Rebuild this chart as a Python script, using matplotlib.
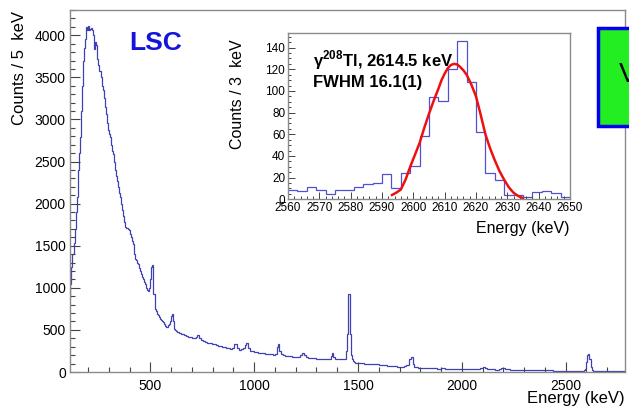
import matplotlib
matplotlib.use('Agg')
import numpy as np
import matplotlib.pyplot as plt
from matplotlib.patches import Rectangle
from matplotlib.ticker import MultipleLocator

# main spectrum, counts / 5 keV (low bin edges in keV)
energy = [
    110, 115, 120, 125, 130, 135, 140, 145, 150, 155, 160, 165, 170, 175, 180, 185,
    190, 195, 200, 205, 210, 215, 220, 225, 230, 235, 240, 245, 250, 255, 260, 265,
    270, 275, 280, 285, 290, 295, 300, 305, 310, 315, 320, 325, 330, 335, 340, 345,
    350, 355, 360, 365, 370, 375, 380, 385, 390, 395, 400, 405, 410, 415, 420, 425,
    430, 435, 440, 445, 450, 455, 460, 465, 470, 475, 480, 485, 490, 495, 500, 505,
    510, 515, 520, 525, 530, 535, 540, 545, 550, 555, 560, 565, 570, 575, 580, 585,
    590, 595, 600, 605, 610, 615, 620, 625, 630, 635, 640, 645, 650, 660, 670, 680,
    690, 700, 710, 720, 725, 735, 745, 755, 765, 775, 785, 795, 805, 815, 825, 835,
    845, 855, 865, 875, 885, 895, 905, 915, 925, 935, 945, 955, 960, 970, 980, 990,
    1000, 1010, 1020, 1030, 1040, 1050, 1060, 1070, 1080, 1090, 1100, 1110, 1115, 1120, 1130, 1140,
    1150, 1160, 1170, 1180, 1190, 1200, 1210, 1220, 1230, 1240, 1250, 1260, 1270, 1280, 1290, 1300,
    1310, 1320, 1330, 1340, 1350, 1360, 1370, 1375, 1380, 1390, 1400, 1410, 1420, 1430, 1440, 1445,
    1450, 1455, 1460, 1465, 1470, 1475, 1480, 1485, 1490, 1500, 1510, 1520, 1530, 1540, 1550, 1560,
    1570, 1580, 1590, 1600, 1610, 1620, 1630, 1640, 1650, 1660, 1670, 1680, 1690, 1700, 1710, 1720,
    1730, 1740, 1745, 1755, 1765, 1770, 1780, 1790, 1800, 1820, 1840, 1860, 1880, 1900, 1920, 1940,
    1960, 1980, 2000, 2020, 2040, 2060, 2080, 2090, 2100, 2110, 2120, 2140, 2160, 2180, 2190, 2200,
    2210, 2230, 2260, 2290, 2320, 2350, 2380, 2410, 2440, 2470, 2500, 2530, 2560, 2580, 2590, 2595,
    2600, 2605, 2610, 2615, 2620, 2625, 2630, 2640, 2670, 2700, 2730, 2760,
]
e_max = 2790
counts = [
    880, 1050, 1250, 1400, 1530, 1700, 1900, 2080, 2400, 2600, 2790, 3100, 3400, 3700, 3850, 3950,
    4100, 4060, 4110, 4060, 4070, 4090, 4060, 4000, 3840, 3920, 3880, 3720, 3650, 3580, 3500, 3400,
    3345, 3250, 3150, 3060, 2960, 2870, 2830, 2790, 2700, 2620, 2595, 2500, 2400, 2330, 2270, 2200,
    2130, 2080, 2000, 1920, 1850, 1780, 1722, 1710, 1700, 1683, 1640, 1600, 1560, 1525, 1400, 1347,
    1330, 1300, 1287, 1240, 1200, 1169, 1130, 1100, 1069, 1040, 1000, 970, 960, 1000, 1100, 1250,
    1267, 931, 753, 720, 690, 673, 650, 630, 615, 600, 594, 570, 550, 534, 540, 560,
    574, 600, 660, 693, 600, 515, 500, 490, 475, 470, 468, 460, 456, 440, 430, 420,
    416, 405, 400, 415, 436, 400, 385, 370, 360, 350, 345, 337, 330, 320, 312, 305,
    300, 297, 290, 282, 270, 280, 329, 290, 265, 270, 280, 320, 345, 290, 250, 245,
    240, 235, 225, 225, 220, 218, 215, 210, 212, 205, 215, 300, 329, 250, 210, 200,
    195, 190, 185, 178, 180, 175, 180, 200, 230, 200, 180, 170, 168, 165, 162, 160,
    158, 159, 157, 160, 155, 160, 190, 226, 175, 159, 157, 155, 158, 159, 250, 456,
    931, 925, 456, 200, 150, 125, 115, 112, 110, 108, 105, 103, 100, 99, 98, 95,
    92, 95, 100, 88, 85, 80, 78, 75, 72, 70, 68, 67, 65, 62, 60, 70,
    85, 80, 150, 178, 100, 59, 55, 52, 50, 48, 45, 42, 40, 42, 40, 38,
    38, 36, 35, 34, 33, 32, 35, 50, 59, 45, 32, 30, 28, 30, 45, 52,
    30, 26, 24, 22, 20, 20, 18, 18, 17, 16, 15, 14, 14, 15, 18, 40,
    120, 200, 215, 150, 60, 25, 15, 12, 10, 8, 8, 6,
]

# inset, counts / 3 keV from 2560 keV
inset_lo = 2560
inset_bin = 3
inset_counts = [
    9, 8, 11, 9, 5, 9, 9, 11, 14, 15, 23, 10, 24, 31, 58,
    94, 91, 120, 146, 108, 62, 24, 18, 4, 4, 2, 7, 8, 6, 2,
]

# gaussian fit curve
fit_e = [2593.2, 2594.5, 2596, 2597.5, 2599, 2600.5, 2602, 2603.5, 2605, 2606.5,
         2608, 2609, 2610, 2611, 2612, 2613, 2614, 2615, 2616, 2617,
         2618.5, 2620, 2621.5, 2623, 2624.5, 2626, 2627.5, 2629, 2630.5, 2632,
         2633.5, 2635]
fit_y = [4, 6, 9, 18, 30, 41, 52, 66, 79, 91,
         102, 110, 116, 121, 124, 125, 124.5, 122, 119, 115,
         106, 95, 78, 60, 47, 36, 26, 18, 11, 6,
         3, 1]

plt.rcdefaults()
plt.rc('font', family=['Liberation Sans', 'DejaVu Sans'], size=10)
plt.rc('mathtext', fontset='custom', rm='Liberation Sans', bf='Liberation Sans:bold')
plt.rc('lines', solid_joinstyle='round')

W, H = 629, 409
fig = plt.figure(figsize=(W / 100, H / 100), dpi=100, facecolor='w')

def frac(x0, y0, x1, y1):
    return [x0 / W, 1 - y1 / H, (x1 - x0) / W, (y1 - y0) / H]

frame = '#8a8a8a'

# main axes
ax = fig.add_axes(frac(70, 10, 625, 372))
edges = np.array(energy + [e_max], dtype=float)
ax.stairs(counts, edges, baseline=None, color='#4040b0', lw=0.9)
ax.set_xlim(113, 2786)
ax.set_ylim(0, 4300)
ax.xaxis.set_major_locator(MultipleLocator(500))
ax.xaxis.set_minor_locator(MultipleLocator(100))
ax.yaxis.set_major_locator(MultipleLocator(500))
ax.yaxis.set_minor_locator(MultipleLocator(100))
ax.tick_params(which='both', direction='in', top=False, right=False, color='#444444', width=0.8)
ax.tick_params(which='major', length=7, labelsize=10)
ax.tick_params(which='minor', length=3.5)
ax.tick_params(axis='x', pad=5)
ax.tick_params(axis='y', pad=3)
for s in ax.spines.values():
    s.set_color(frame)
    s.set_linewidth(1.0)
fig.text(625 / W, 1 - 399 / H, 'Energy (keV)', ha='right', va='center', fontsize=12)
fig.text(20 / W, 1 - 68 / H, 'Counts / 5  keV', rotation=90, ha='center', va='center', fontsize=12)
fig.text(156 / W, 1 - 43 / H, 'LSC', ha='center', va='center', fontsize=19,
         fontweight='bold', color='#1414dc')

# inset axes
ins = fig.add_axes(frac(288, 33, 570, 199.3))
ie = inset_lo + inset_bin * np.arange(len(inset_counts) + 1)
ins.stairs(inset_counts, ie, baseline=None, color='#5050d2', lw=0.9)
ins.plot(fit_e, fit_y, color='#ee1010', lw=1.8)
ins.set_xlim(2560, 2650)
ins.set_ylim(0, 153.5)
ins.xaxis.set_major_locator(MultipleLocator(10))
ins.xaxis.set_minor_locator(MultipleLocator(2))
ins.yaxis.set_major_locator(MultipleLocator(20))
ins.yaxis.set_minor_locator(MultipleLocator(5))
ins.tick_params(which='both', direction='in', top=False, right=False, color='#444444', width=0.7)
ins.tick_params(which='major', length=5, labelsize=8.5, pad=2)
ins.tick_params(which='minor', length=2.5)
for s in ins.spines.values():
    s.set_color(frame)
    s.set_linewidth(1.0)
fig.text(570 / W, 1 - 228 / H, 'Energy (keV)', ha='right', va='center', fontsize=11.5)
fig.text(238 / W, 1 - 94 / H, 'Counts / 3  keV', rotation=90, ha='center', va='center', fontsize=11.5)
fig.text(313 / W, 1 - 60 / H, 'γ$^{\\mathbf{208}}$Tl, 2614.5 keV',
         ha='left', va='center', fontsize=12, fontweight='bold')
fig.text(313 / W, 1 - 82 / H, 'FWHM 16.1(1)',
         ha='left', va='center', fontsize=12, fontweight='bold')

# green box, cut by the right border
fig.patches.append(Rectangle((598 / W, 1 - 126 / H), 60 / W, 98 / H, transform=fig.transFigure,
                             facecolor='#22ee22', edgecolor='#0000ee', lw=2.5, zorder=5))
fig.text(619 / W, 1 - 75 / H, 'V', ha='left', va='center', fontsize=20, zorder=6)

fig.savefig('out.png', dpi=100)
